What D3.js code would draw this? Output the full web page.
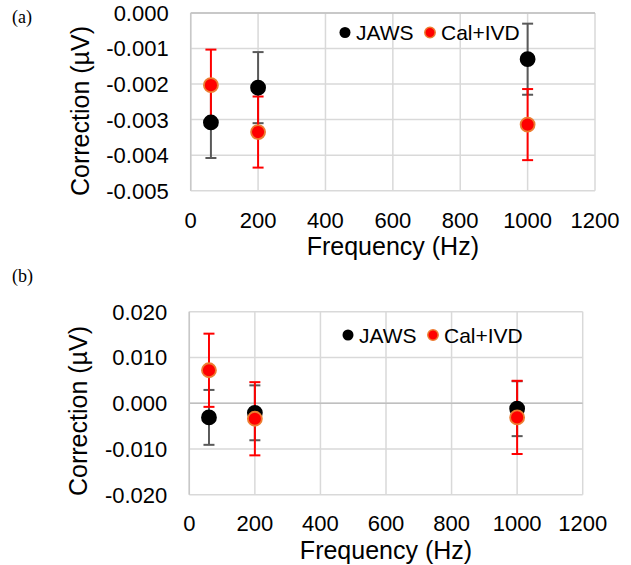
<!DOCTYPE html>
<html>
<head>
<meta charset="utf-8">
<script src="https://cdn.jsdelivr.net/npm/d3@7"></script>
<style>
html,body{margin:0;padding:0;background:#fff;}
svg text{font-family:"Liberation Sans",Arial,sans-serif;fill:#000;}
</style>
</head>
<body>
<svg id="chart" width="631" height="565"></svg>
<script>
const frequencies = [60, 200, 1000];
const seriesNames = ["JAWS", "Cal+IVD"];
const xTicks = [0, 200, 400, 600, 800, 1000, 1200];

// Panel (a)
const aJaws = [-0.00308, -0.0021, -0.0013];
const aJawsErr = [0.001, 0.001, 0.001];
const aCal = [-0.00203, -0.00335, -0.00314];
const aCalErr = [0.001, 0.001, 0.001];
const aYTicks = [0.000, -0.001, -0.002, -0.003, -0.004, -0.005];

// Panel (b)
const bJaws = [-0.0031, -0.0021, -0.0012];
const bJawsErr = [0.006, 0.006, 0.006];
const bCal = [0.0072, -0.0034, -0.0031];
const bCalErr = [0.008, 0.008, 0.008];
const bYTicks = [0.020, 0.010, 0.000, -0.010, -0.020];

const svg = d3.select("#chart");

function panel(cfg) {
  const {left, right, top, bottom, yDomain, yTicks, jaws, jawsErr, cal, calErr, label, labelY, legendX, legendY, yTitleX, yTitleY, xTickY, xTitleY, axisY} = cfg;
  const x = d3.scaleLinear().domain([0, 1200]).range([left, right]);
  const y = d3.scaleLinear().domain(yDomain).range([bottom, top]);
  const g = svg.append("g");

  // gridlines
  g.selectAll(".hg").data(yTicks).join("line")
    .attr("x1", left).attr("x2", right)
    .attr("y1", d => y(d)).attr("y2", d => y(d))
    .attr("stroke", "#d9d9d9").attr("stroke-width", 1.5);
  g.selectAll(".vg").data(xTicks).join("line")
    .attr("y1", top).attr("y2", bottom)
    .attr("x1", d => x(d)).attr("x2", d => x(d))
    .attr("stroke", "#d9d9d9").attr("stroke-width", 1.5);
  // axis lines
  g.append("line").attr("x1", left).attr("x2", right)
    .attr("y1", y(axisY)).attr("y2", y(axisY))
    .attr("stroke", "#bfbfbf").attr("stroke-width", 1.5);
  g.append("line").attr("x1", left).attr("x2", left)
    .attr("y1", top).attr("y2", bottom)
    .attr("stroke", "#c8c8c8").attr("stroke-width", 1.5);

  // y tick labels
  const fmt = d3.format(".3f");
  g.selectAll(".yl").data(yTicks).join("text")
    .attr("x", left - 22).attr("y", d => y(d))
    .attr("dy", "0.36em").attr("text-anchor", "end")
    .style("font-size", "22px")
    .text(d => fmt(d).replace("−", "-"));
  // x tick labels
  g.selectAll(".xl").data(xTicks).join("text")
    .attr("x", d => x(d)).attr("y", xTickY)
    .attr("text-anchor", "middle")
    .style("font-size", "22px")
    .text(d => d);

  // titles
  g.append("text").attr("x", (left + right) / 2).attr("y", xTitleY)
    .attr("text-anchor", "middle").style("font-size", "25px")
    .text("Frequency (Hz)");
  g.append("text")
    .attr("transform", `translate(${yTitleX},${yTitleY}) rotate(-90)`)
    .attr("text-anchor", "middle").attr("dy", "0.36em").style("font-size", "25px")
    .text("Correction (\u00b5V)");

  // panel label
  g.append("text").attr("x", 12).attr("y", labelY)
    .style("font-family", "'Liberation Serif','Times New Roman',serif")
    .style("font-size", "18px").text(label);

  const series = [
    {vals: jaws, errs: jawsErr, color: "#595959", fill: "#000", stroke: "#000"},
    {vals: cal, errs: calErr, color: "#ff0000", fill: "#ff0000", stroke: "#ed7d31"}
  ];
  // error bars
  series.forEach(s => {
    const eg = g.append("g");
    frequencies.forEach((f, i) => {
      const cx = x(f), y1 = y(s.vals[i] + s.errs[i]), y2 = y(s.vals[i] - s.errs[i]);
      eg.append("line").attr("x1", cx).attr("x2", cx).attr("y1", y1).attr("y2", y2)
        .attr("stroke", s.color).attr("stroke-width", 2);
      [y1, y2].forEach(yy => eg.append("line").attr("x1", cx - 5.5).attr("x2", cx + 5.5)
        .attr("y1", yy).attr("y2", yy).attr("stroke", s.color).attr("stroke-width", 2));
    });
  });
  // markers
  series.forEach(s => {
    g.append("g").selectAll("circle").data(frequencies).join("circle")
      .attr("cx", d => x(d)).attr("cy", (d, i) => y(s.vals[i]))
      .attr("r", 7).attr("fill", s.fill).attr("stroke", s.stroke).attr("stroke-width", 1.8);
  });

  // legend
  const lg = g.append("g");
  lg.append("circle").attr("cx", legendX).attr("cy", legendY).attr("r", 5.5).attr("fill", "#000");
  lg.append("text").attr("x", legendX + 11).attr("y", legendY).attr("dy", "0.36em")
    .style("font-size", "21px").text(seriesNames[0]);
  lg.append("circle").attr("cx", legendX + 85).attr("cy", legendY).attr("r", 5.2)
    .attr("fill", "#ff0000").attr("stroke", "#ed7d31").attr("stroke-width", 1.5);
  lg.append("text").attr("x", legendX + 96).attr("y", legendY).attr("dy", "0.36em")
    .style("font-size", "21px").text(seriesNames[1]);
}

panel({left: 190.7, right: 595, top: 13, bottom: 190.7, yDomain: [-0.005, 0], yTicks: aYTicks,
  jaws: aJaws, jawsErr: aJawsErr, cal: aCal, calErr: aCalErr, label: "(a)", labelY: 23,
  legendX: 345, legendY: 32.5, yTitleX: 80, yTitleY: 111, xTickY: 228, xTitleY: 254.5, axisY: 0});
panel({left: 189.3, right: 582.7, top: 311.7, bottom: 494.7, yDomain: [-0.02, 0.02], yTicks: bYTicks,
  jaws: bJaws, jawsErr: bJawsErr, cal: bCal, calErr: bCalErr, label: "(b)", labelY: 282,
  legendX: 348, legendY: 335, yTitleX: 78, yTitleY: 411, xTickY: 531, xTitleY: 558.5, axisY: 0});
</script>
</body>
</html>
